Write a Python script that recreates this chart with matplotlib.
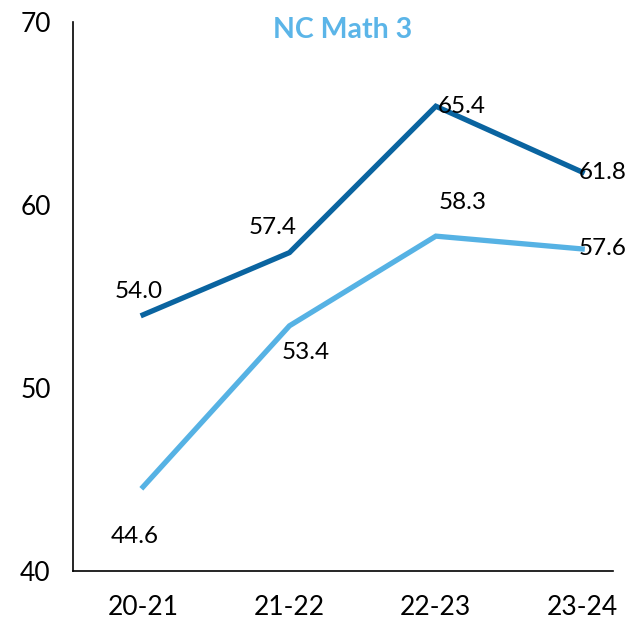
import matplotlib.pyplot as plt

plt.rcParams["font.family"] = ["Lato", "DejaVu Sans"]

years = ["20-21", "21-22", "22-23", "23-24"]
series_dark = [54.0, 57.4, 65.4, 61.8]
series_light = [44.6, 53.4, 58.3, 57.6]

dark = "#0A64A0"
light = "#56B2E4"


def main():
    fig = plt.figure(figsize=(6.28, 6.21), dpi=100)
    ax = fig.add_axes([0.116, 0.0805, 0.86, 0.884])

    x = list(range(len(years)))
    ax.plot(x, series_dark, color=dark, lw=3.8, solid_joinstyle="miter")
    ax.plot(x, series_light, color=light, lw=3.8, solid_joinstyle="miter")

    # label offsets in points (dx, dy)
    dark_offsets = [(-3, 17), (-12, 18), (19, 0), (15, 0)]
    light_offsets = [(-6, -36), (12, -19), (19, 24), (15, 0)]
    for xi, v, off in zip(x, series_dark, dark_offsets):
        ax.annotate(f"{v:.1f}", (xi, v), xytext=off, textcoords="offset points",
                    ha="center", va="center", fontsize=17.5)
    for xi, v, off in zip(x, series_light, light_offsets):
        ax.annotate(f"{v:.1f}", (xi, v), xytext=off, textcoords="offset points",
                    ha="center", va="center", fontsize=17.5)

    ax.set_xlim(-0.48, 3.21)
    ax.set_ylim(40, 70)
    ax.set_yticks([40, 50, 60, 70])
    ax.set_xticks(x)
    ax.set_xticklabels(years)
    ax.tick_params(axis="both", length=0, labelsize=19)
    ax.tick_params(axis="y", pad=16)
    ax.tick_params(axis="x", pad=17)

    for side in ["top", "right"]:
        ax.spines[side].set_visible(False)
    ax.spines["left"].set_linewidth(1.2)
    ax.spines["bottom"].set_linewidth(1.2)

    ax.text(0.5, 0.985, "NC Math 3", transform=ax.transAxes, ha="center",
            va="center", fontsize=20.5, fontweight="bold", color="#5BB5E8")

    fig.savefig("out.png", dpi=100)
    plt.close(fig)


if __name__ == "__main__":
    main()
